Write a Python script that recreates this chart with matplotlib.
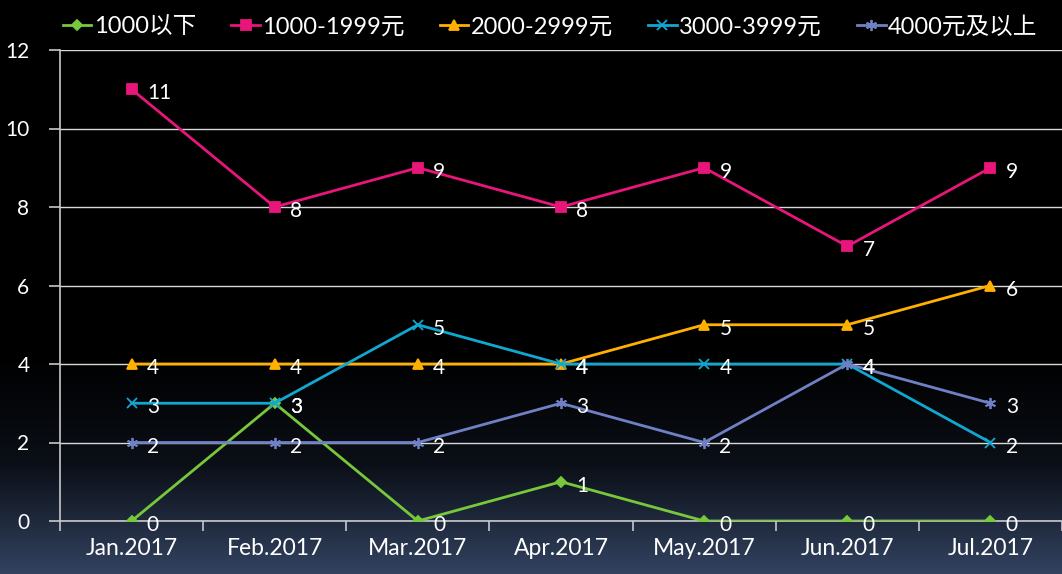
import numpy as np
import matplotlib
matplotlib.use("Agg")
import matplotlib.pyplot as plt
from matplotlib.colors import LinearSegmentedColormap

plt.rcParams['font.family'] = ['Lato', 'Noto Sans CJK SC', 'DejaVu Sans']

months = ["Jan.2017", "Feb.2017", "Mar.2017", "Apr.2017", "May.2017", "Jun.2017", "Jul.2017"]
series_names = ["1000以下", "1000-1999元", "2000-2999元", "3000-3999元", "4000元及以上"]
s_below1000 = [0, 3, 0, 1, 0, 0, 0]
s_1000_1999 = [11, 8, 9, 8, 9, 7, 9]
s_2000_2999 = [4, 4, 4, 4, 5, 5, 6]
s_3000_3999 = [3, 3, 5, 4, 4, 4, 2]
s_4000_up = [2, 2, 2, 3, 2, 4, 3]
yticks = [0, 2, 4, 6, 8, 10, 12]

series = [s_below1000, s_1000_1999, s_2000_2999, s_3000_3999, s_4000_up]
colors = ["#77c83a", "#e8157a", "#ffb000", "#10a8d0", "#6f80c4"]
markers = ["D", "s", "^", "x", (6, 2, 0)]
msizes = [5, 7, 7, 7, 8]

fig = plt.figure(figsize=(10.62, 5.74), dpi=100)

# background gradient
bg = fig.add_axes([0, 0, 1, 1], zorder=-10)
h = 574
grad = np.zeros((h, 1))
t = np.linspace(0, 1, h)
grad[:, 0] = np.clip((t - 0.62) / 0.38, 0, 1)
cmap = LinearSegmentedColormap.from_list("bg", ["#000000", "#0b0f17", "#324260"])
bg.imshow(grad, aspect="auto", cmap=cmap, extent=[0, 1, 0, 1], vmin=0, vmax=1)
bg.axis("off")

ax = fig.add_axes([60 / 1062, 1 - 521 / 574, 1 - 60 / 1062, (521 - 50) / 574])
ax.set_facecolor("none")
x = np.arange(len(months))
for name, vals, c, m, ms in zip(series_names, series, colors, markers, msizes):
    ax.plot(x, vals, color=c, lw=2.0, marker=m, ms=ms, mec=c, mfc=c, mew=1.3,
            label=name, zorder=3)
    for xi, v in zip(x, vals):
        ax.annotate(str(v), (xi, v), xytext=(11, -3), textcoords="offset points",
                    color="white", fontsize=15, va="center", ha="left", zorder=4)

ax.set_xlim(-0.5, len(months) - 0.5)
ax.set_ylim(0, 12)
ax.set_yticks(yticks)
ax.set_yticklabels([str(v) for v in yticks], color="white", fontsize=15)
ax.set_xticks(x)
ax.set_xticklabels(months, color="white", fontsize=16.5)
ax.set_xticks(np.arange(-0.5, len(months), 1), minor=True)
ax.tick_params(axis="x", which="major", length=0, pad=12)
ax.tick_params(axis="x", which="minor", length=7, color="#c8c8c8", width=1.2, direction="out")
ax.tick_params(axis="y", length=8, color="#c8c8c8", width=1.2, pad=14)
ax.grid(axis="y", color="#d8d8d8", lw=1.0)
for s in ["top", "right"]:
    ax.spines[s].set_visible(False)
ax.spines["left"].set_color("#c8c8c8")
ax.spines["left"].set_linewidth(1.2)
ax.spines["bottom"].set_color("#c8c8c8")
ax.spines["bottom"].set_linewidth(1.2)

leg = fig.legend(loc="upper center", bbox_to_anchor=(0.518, 1.01), ncol=5, frameon=False,
                 fontsize=17, handlelength=1.2, handletextpad=0.1, columnspacing=1.5)
for txt in leg.get_texts():
    txt.set_color("white")

fig.savefig("out.png", dpi=100, facecolor="black")
